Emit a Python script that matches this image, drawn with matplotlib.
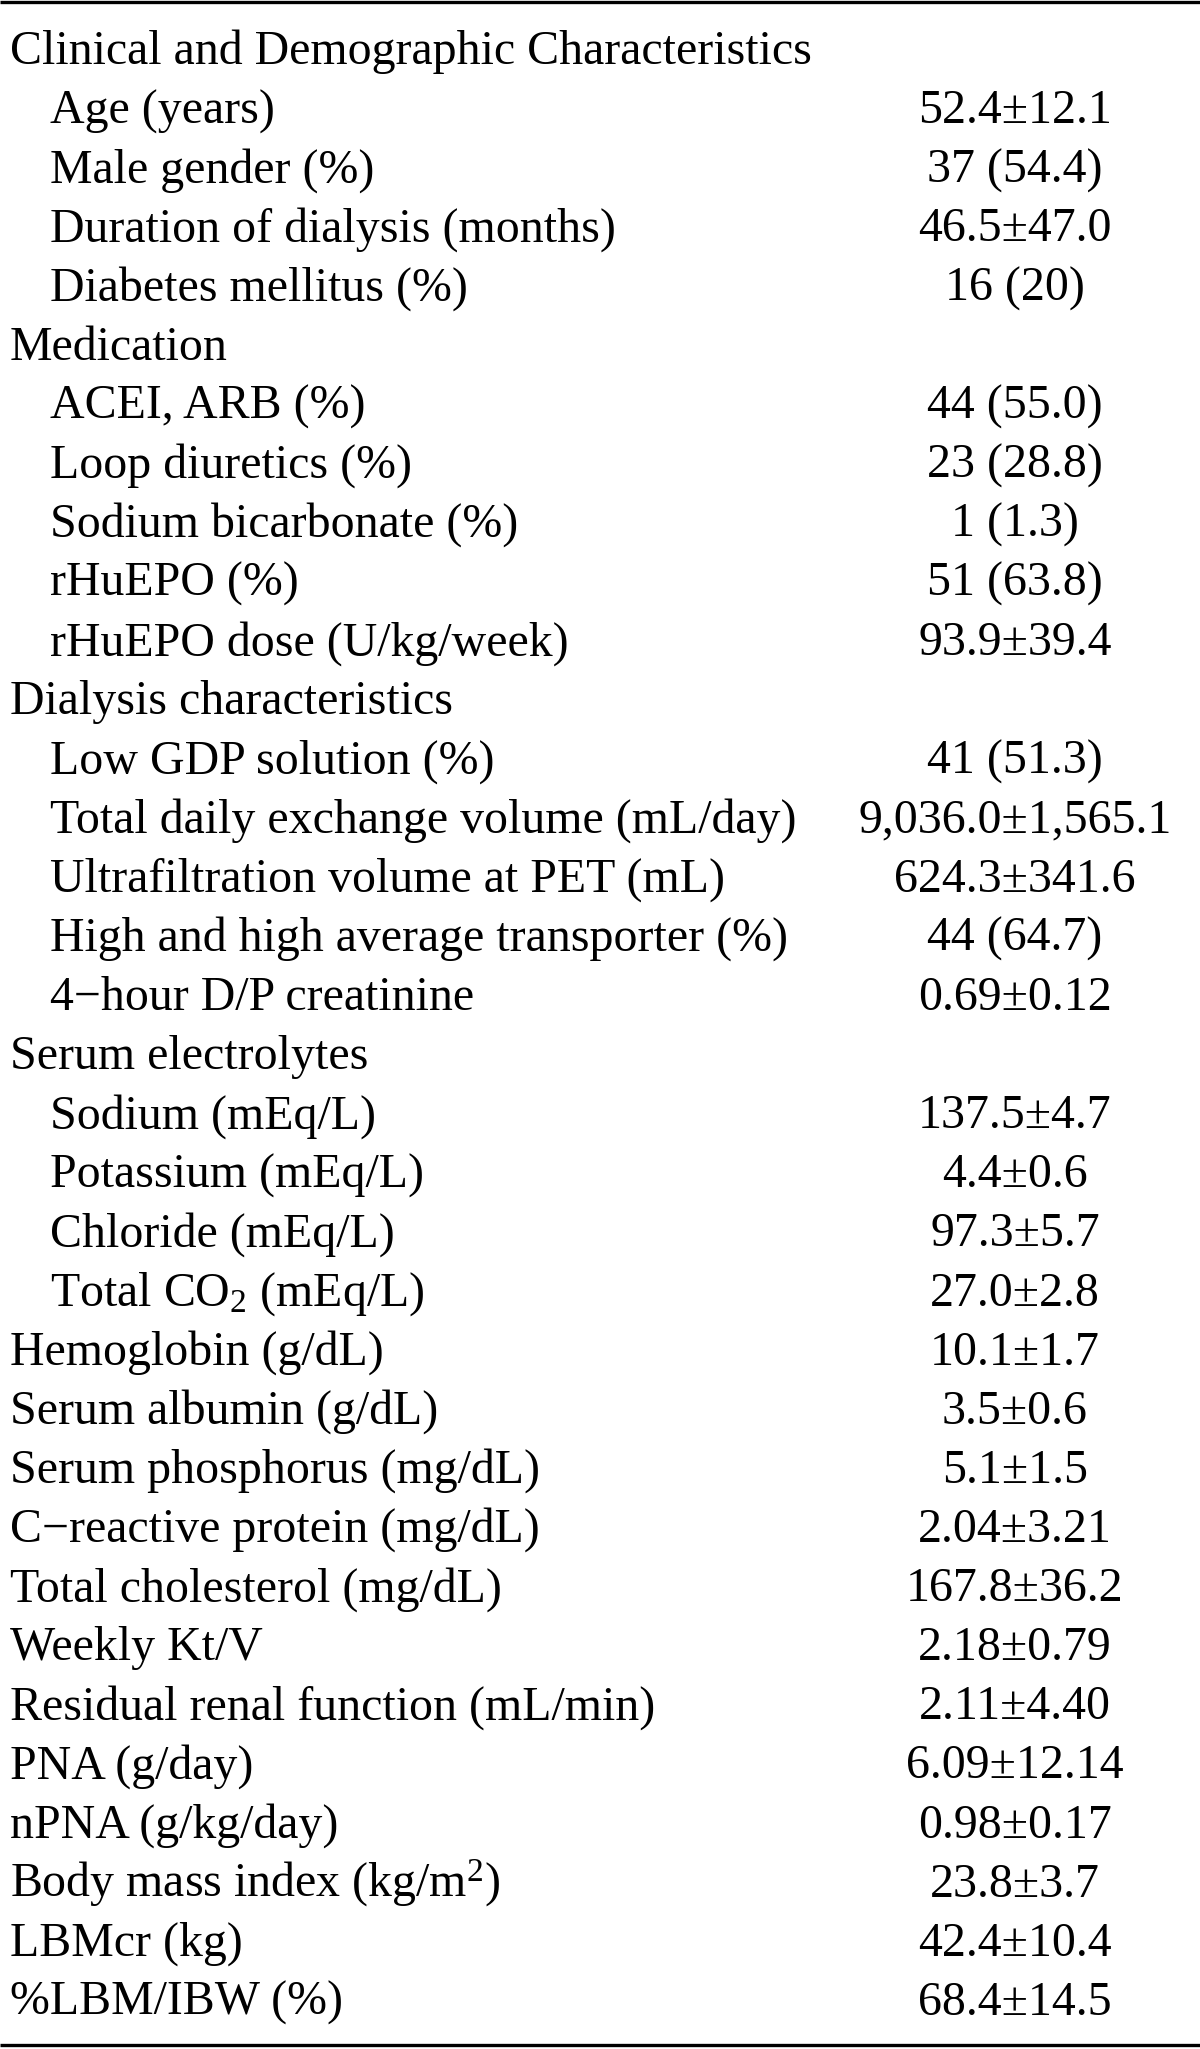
import matplotlib
matplotlib.use("Agg")
import matplotlib.pyplot as plt

plt.rcParams['font.family'] = ['Liberation Serif', 'DejaVu Serif']
plt.rcParams['mathtext.fontset'] = 'custom'
plt.rcParams['mathtext.rm'] = 'Liberation Serif'

# table content
labels = [
    "Clinical and Demographic Characteristics",
    "Age (years)",
    "Male gender (%)",
    "Duration of dialysis (months)",
    "Diabetes mellitus (%)",
    "Medication",
    "ACEI, ARB (%)",
    "Loop diuretics (%)",
    "Sodium bicarbonate (%)",
    "rHuEPO (%)",
    "rHuEPO dose (U/kg/week)",
    "Dialysis characteristics",
    "Low GDP solution (%)",
    "Total daily exchange volume (mL/day)",
    "Ultrafiltration volume at PET (mL)",
    "High and high average transporter (%)",
    "4\u2212hour D/P creatinine",
    "Serum electrolytes",
    "Sodium (mEq/L)",
    "Potassium (mEq/L)",
    "Chloride (mEq/L)",
    "Total CO$\\mathregular{_2}$ (mEq/L)",
    "Hemoglobin (g/dL)",
    "Serum albumin (g/dL)",
    "Serum phosphorus (mg/dL)",
    "C\u2212reactive protein (mg/dL)",
    "Total cholesterol (mg/dL)",
    "Weekly Kt/V",
    "Residual renal function (mL/min)",
    "PNA (g/day)",
    "nPNA (g/kg/day)",
    "Body mass index (kg/m$\\mathregular{^2}$)",
    "LBMcr (kg)",
    "%LBM/IBW (%)",
]
values = [
    "", "52.4±12.1", "37 (54.4)", "46.5±47.0", "16 (20)",
    "", "44 (55.0)", "23 (28.8)", "1 (1.3)", "51 (63.8)", "93.9±39.4",
    "", "41 (51.3)", "9,036.0±1,565.1", "624.3±341.6", "44 (64.7)", "0.69±0.12",
    "", "137.5±4.7", "4.4±0.6", "97.3±5.7", "27.0±2.8",
    "10.1±1.7", "3.5±0.6", "5.1±1.5", "2.04±3.21", "167.8±36.2", "2.18±0.79",
    "2.11±4.40", "6.09±12.14", "0.98±0.17", "23.8±3.7", "42.4±10.4", "68.4±14.5",
]
indent = [0, 1, 1, 1, 1, 0, 1, 1, 1, 1, 1, 0, 1, 1, 1, 1, 1, 0, 1, 1, 1, 1,
          0, 0, 0, 0, 0, 0, 0, 0, 0, 0, 0, 0]

fig = plt.figure(figsize=(12, 20.49), dpi=100)
ax = fig.add_axes([0, 0, 1, 1])
ax.set_xlim(0, 1200)
ax.set_ylim(2049, 0)
ax.axis('off')

row_h = 59.12
for i, (lab, val, ind) in enumerate(zip(labels, values, indent)):
    y = 64 + i * row_h
    ax.text(10 + 40 * ind, y, lab, fontsize=34.5, va='baseline', ha='left')
    if val:
        ax.text(1015, y, val, fontsize=34.5, va='baseline', ha='center')

ax.plot([0, 1200], [1.5, 1.5], color='black', lw=2.4, solid_capstyle='butt')
ax.plot([0, 1200], [2045, 2045], color='black', lw=2.4, solid_capstyle='butt')

fig.savefig("out.png", dpi=100)
